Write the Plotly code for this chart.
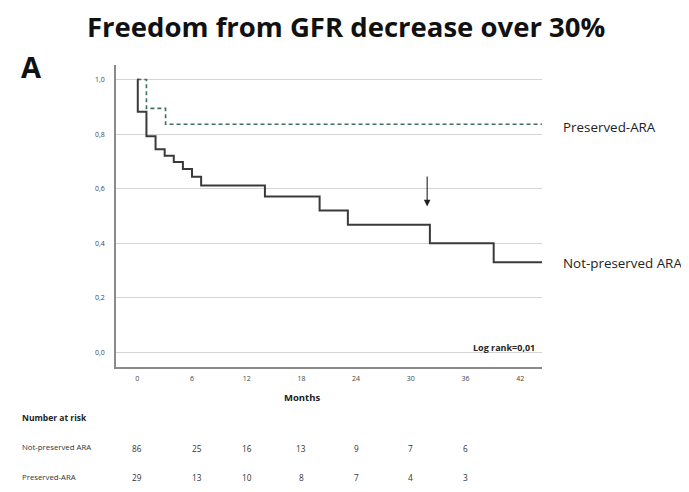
import plotly.graph_objects as go

# Kaplan-Meier step data (months, survival)
np_months = [0, 0.05, 1.0, 2.0, 3.0, 4.0, 5.0, 6.0, 7.0, 14.0, 20.0, 23.1, 32.1, 39.1, 44.4]
np_surv   = [1.0, 0.882, 0.792, 0.744, 0.721, 0.698, 0.672, 0.644, 0.612, 0.571, 0.520, 0.468, 0.400, 0.331, 0.331]
p_months  = [0, 1.0, 3.1, 44.4]
p_surv    = [1.0, 0.894, 0.836, 0.836]

risk_months = [0, 6, 12, 18, 24, 30, 36]
risk_not_preserved = [86, 25, 16, 13, 9, 7, 6]
risk_preserved = [29, 13, 10, 8, 7, 4, 3]

x_ticks = [0, 6, 12, 18, 24, 30, 36, 42]
y_ticks = [0.0, 0.2, 0.4, 0.6, 0.8, 1.0]

arrow_month = 31.8
arrow_top, arrow_tip = 0.65, 0.535

# page geometry (browser body has an 8px margin on every side)
BODY = 8
W, H = 689 - 2 * BODY, 492 - 2 * BODY
PL, PT = 116, 65          # plot-area top-left on the page
PW, PH = 426, 302         # plot-area size
L, T = PL - BODY, PT - BODY
R, B = W - L - PW, H - T - PH


def px(xp):
    return (xp - PL) / PW


def py(yp):
    return 1 - (yp - PT) / PH


FONT = "Open Sans"
fig = go.Figure()
fig.add_trace(go.Scatter(x=p_months, y=p_surv, mode="lines", line_shape="hv",
                         line=dict(color="#3f7062", width=1.6, dash="4px,3px"),
                         name="Preserved-ARA", showlegend=False))
fig.add_trace(go.Scatter(x=np_months, y=np_surv, mode="lines", line_shape="hv",
                         line=dict(color="#3a3a3a", width=2),
                         name="Not-preserved ARA", showlegend=False))

ann = [
    dict(x=arrow_month, y=arrow_tip, ax=arrow_month, ay=arrow_top, xref="x", yref="y",
         axref="x", ayref="y", showarrow=True, arrowhead=2, arrowsize=1.2,
         arrowwidth=1.1, arrowcolor="#222", text=""),
    dict(x=43.8, y=0.018, xref="x", yref="y", xanchor="right", yanchor="middle",
         text="<b>Log rank=0,01</b>", showarrow=False,
         font=dict(family=FONT, size=9, color="#222")),
    dict(x=px(561), y=py(127), xref="paper", yref="paper", xanchor="left", yanchor="middle",
         text="Preserved-ARA", showarrow=False, font=dict(family=FONT, size=13.4, color="#222")),
    dict(x=px(561), y=py(263), xref="paper", yref="paper", xanchor="left", yanchor="middle",
         text="Not-preserved ARA", showarrow=False, font=dict(family=FONT, size=13.4, color="#222")),
    dict(x=px(346), y=py(26), xref="paper", yref="paper", xanchor="center", yanchor="middle",
         text="<b>Freedom from GFR decrease over 30%</b>", showarrow=False,
         font=dict(family=FONT, size=27.5, color="#111")),
    dict(x=px(19), y=py(66), xref="paper", yref="paper", xanchor="left", yanchor="middle",
         text="<b>A</b>", showarrow=False, font=dict(family=FONT, size=29, color="#111")),
    dict(x=px(20), y=py(417), xref="paper", yref="paper", xanchor="left", yanchor="middle",
         text="<b>Number at risk</b>", showarrow=False, font=dict(family=FONT, size=8.5, color="#222")),
    dict(x=px(20), y=py(447), xref="paper", yref="paper", xanchor="left", yanchor="middle",
         text="Not-preserved ARA", showarrow=False, font=dict(family=FONT, size=7.8, color="#333")),
    dict(x=px(20), y=py(477), xref="paper", yref="paper", xanchor="left", yanchor="middle",
         text="Preserved-ARA", showarrow=False, font=dict(family=FONT, size=7.8, color="#333")),
    dict(x=18.1, xref="x", y=py(397), yref="paper", yanchor="middle",
         text="<b>Months</b>", showarrow=False, font=dict(family=FONT, size=9.5, color="#222")),
]

for m, n1, n2 in zip(risk_months, risk_not_preserved, risk_preserved):
    shift = 5 if m == 6 else 0
    ann.append(dict(x=m, xref="x", y=py(448), yref="paper", text=str(n1), showarrow=False,
                    xshift=shift, yanchor="middle", font=dict(family=FONT, size=8.3, color="#333")))
    ann.append(dict(x=m, xref="x", y=py(477), yref="paper", text=str(n2), showarrow=False,
                    xshift=shift, yanchor="middle", font=dict(family=FONT, size=8.3, color="#333")))

fig.update_layout(
    width=W, height=H, margin=dict(l=L, r=R, t=T, b=B, pad=0),
    paper_bgcolor="white", plot_bgcolor="white",
    separators=",.",
    annotations=ann,
    xaxis=dict(range=[-2.34, 44.4], tickvals=x_ticks, showgrid=False, zeroline=False,
               showline=True, linecolor="#8a8a8a", linewidth=1.5, ticks="",
               tickfont=dict(family=FONT, size=7, color="#444"), ticklabelstandoff=4),
    yaxis=dict(range=[-0.053, 1.053], tickvals=y_ticks, tickformat=".1f", showgrid=True,
               gridcolor="#d4d4d4", gridwidth=1.2, zeroline=False, showline=True,
               linecolor="#8a8a8a", linewidth=1.5, ticks="",
               tickfont=dict(family=FONT, size=7, color="#444"), ticklabelstandoff=8),
)

fig.write_html("out.html")
